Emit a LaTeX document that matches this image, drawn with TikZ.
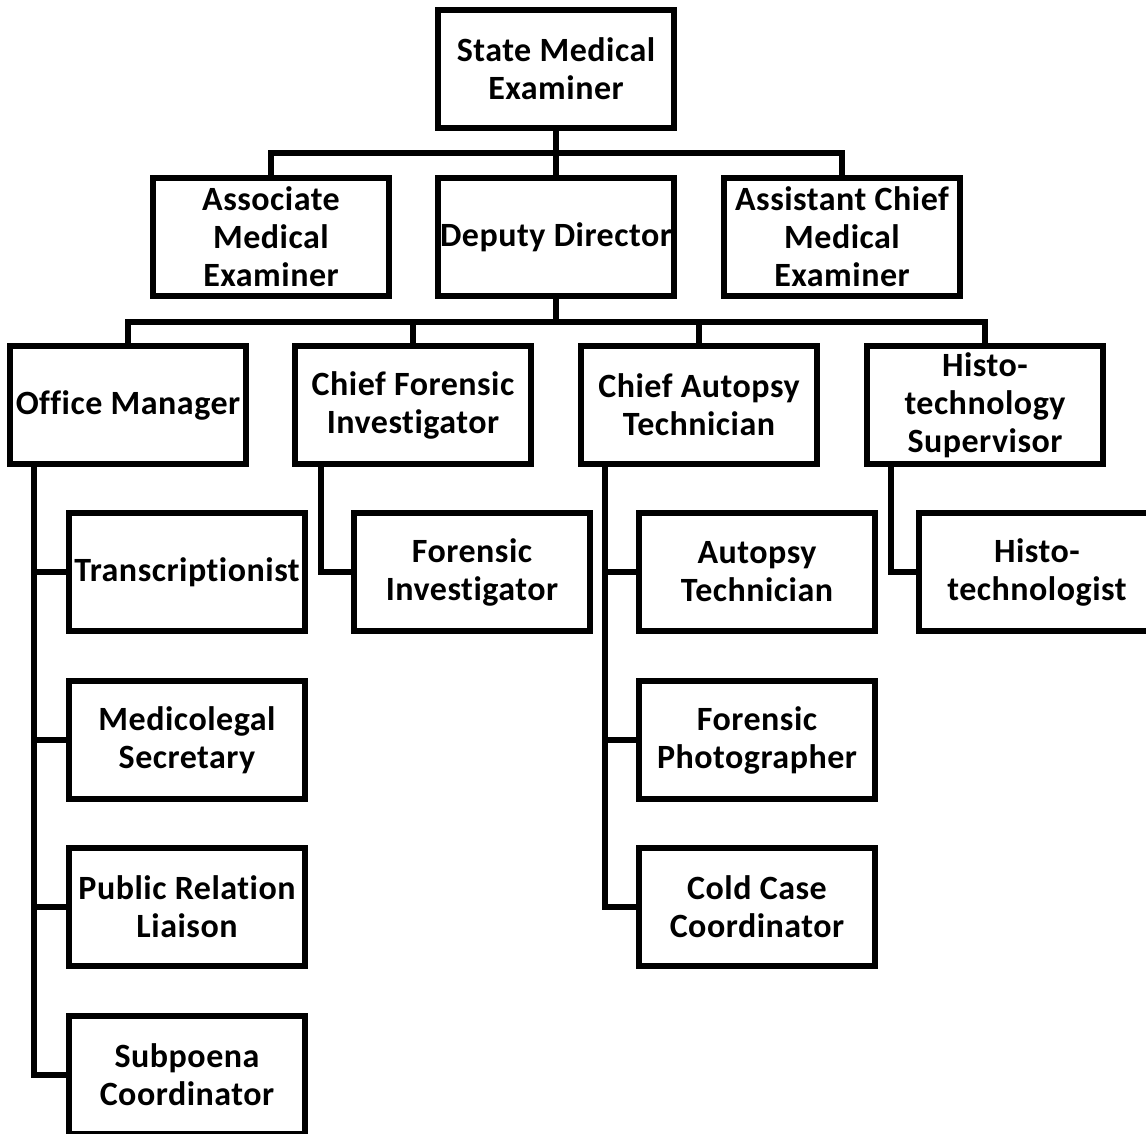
\documentclass[tikz,border=0pt]{standalone}
\usepackage{fontspec}
\setmainfont[Ligatures=NoCommon,LetterSpace=1.5]{Carlito}
\begin{document}
\begin{tikzpicture}[x=1pt,y=-1pt,
  box/.style={draw, line width=6pt, minimum width=236pt, minimum height=118pt, inner sep=0pt, align=center, font=\fontsize{34}{38}\selectfont\bfseries},
  conn/.style={line width=6pt}]
\useasboundingbox (0,0) rectangle (1146,1133);
\clip (0,0) rectangle (1146,1133);
\node[box] (sme) at (556,69) {State Medical\\Examiner};
\node[box] (ame) at (271,237) {Associate\\Medical\\Examiner};
\node[box] (dd) at (556,237) {Deputy Director};
\node[box] (acme) at (842,237) {Assistant Chief\\Medical\\Examiner};
\node[box] (om) at (128,405) {Office Manager};
\node[box] (cfi) at (413,405) {Chief Forensic\\Investigator};
\node[box] (cat) at (699,405) {Chief Autopsy\\Technician};
\node[box] (hts) at (985,405) {Histo-\\technology\\Supervisor};
\node[box] (tr) at (187,572) {Transcriptionist};
\node[box] (fi) at (472,572) {Forensic\\Investigator};
\node[box] (at) at (757,572) {Autopsy\\Technician};
\node[box] (ht) at (1037,572) {Histo-\\technologist};
\node[box] (ms) at (187,740) {Medicolegal\\Secretary};
\node[box] (fp) at (757,740) {Forensic\\Photographer};
\node[box] (pr) at (187,907) {Public Relation\\Liaison};
\node[box] (cc) at (757,907) {Cold Case\\Coordinator};
\node[box] (sc) at (187,1075) {Subpoena\\Coordinator};
% level 1
\coordinate (j1) at (556,153);
\draw[conn] (sme.south) -- (dd.north);
\draw[conn] (ame.north) -- (ame.north |- j1) -- (acme.north |- j1) -- (acme.north);
% level 2
\coordinate (j2) at (556,322);
\draw[conn] (om.north) -- (om.north |- j2) -- (hts.north |- j2) -- (hts.north);
\draw[conn] (dd.south) -- (j2);
\draw[conn] (cfi.north) -- (cfi.north |- j2);
\draw[conn] (cat.north) -- (cat.north |- j2);
% spines
\coordinate (omx) at ([xshift=-94pt]om.south);
\coordinate (cfix) at ([xshift=-92pt]cfi.south);
\coordinate (catx) at ([xshift=-94pt]cat.south);
\coordinate (htsx) at ([xshift=-94pt]hts.south);
\draw[conn] (omx) |- (sc.west);
\draw[conn] (omx |- tr.west) -- (tr.west);
\draw[conn] (omx |- ms.west) -- (ms.west);
\draw[conn] (omx |- pr.west) -- (pr.west);
\draw[conn] (cfix) |- (fi.west);
\draw[conn] (catx) |- (cc.west);
\draw[conn] (catx |- at.west) -- (at.west);
\draw[conn] (catx |- fp.west) -- (fp.west);
\draw[conn] (htsx) |- (ht.west);
\end{tikzpicture}
\end{document}
